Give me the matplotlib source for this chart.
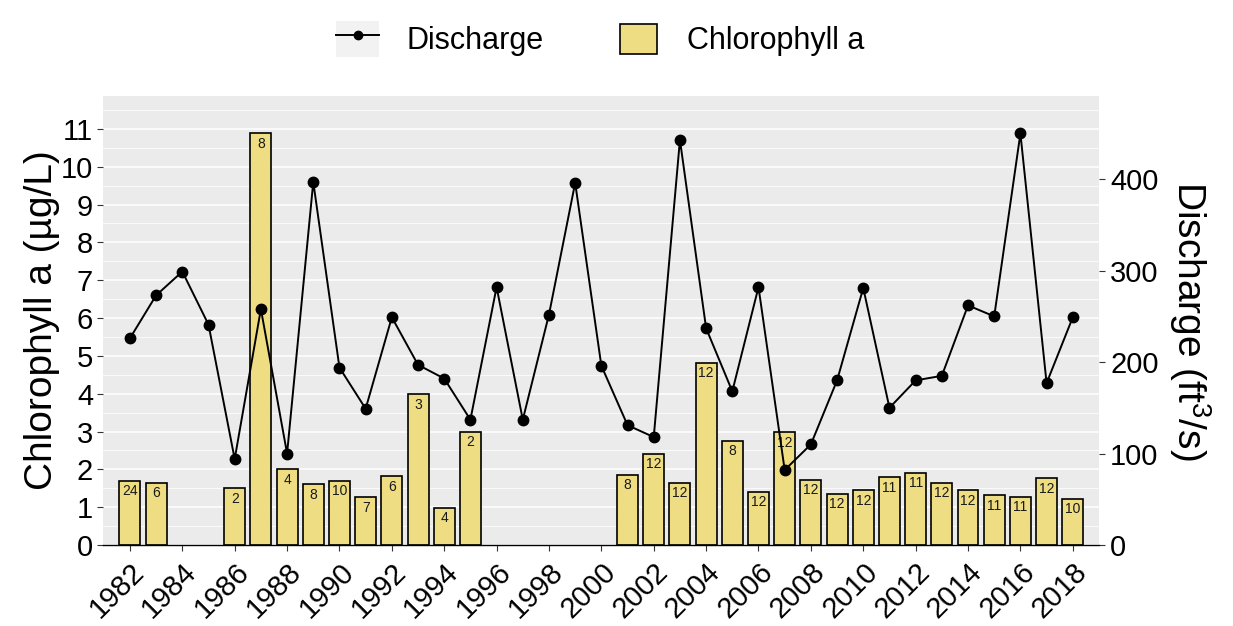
import matplotlib
matplotlib.use('Agg')
import matplotlib.pyplot as plt
import numpy as np
from matplotlib.lines import Line2D
from matplotlib.patches import Patch, Rectangle
from matplotlib.legend_handler import HandlerLine2D, HandlerPatch

plt.rcParams['font.family'] = ['Liberation Sans', 'DejaVu Sans']
plt.rcParams['mathtext.default'] = 'regular'

# Discharge, one value per year
years = list(range(1982, 2019))
discharge = [226, 273, 299, 241, 94, 258, 100, 397, 194, 149, 249, 197, 182, 137,
             282, 137, 252, 396, 196, 131, 118, 443, 237, 168, 282, 82,
             110, 180, 281, 150, 180, 185, 262, 250, 450, 177, 249]

# Chlorophyll a means and sample counts (years with data only)
chl_years = [1982, 1983, 1986, 1987, 1988, 1989, 1990, 1991, 1992, 1993, 1994, 1995,
             2001, 2002, 2003, 2004, 2005, 2006, 2007, 2008, 2009, 2010, 2011, 2012,
             2013, 2014, 2015, 2016, 2017, 2018]
chl = [1.70, 1.65, 1.50, 10.88, 2.00, 1.60, 1.70, 1.26, 1.82, 3.99, 0.99, 3.00,
       1.85, 2.41, 1.65, 4.82, 2.75, 1.41, 2.98, 1.72, 1.35, 1.45, 1.79, 1.91,
       1.65, 1.45, 1.32, 1.28, 1.77, 1.22]
counts = [24, 6, 2, 8, 4, 8, 10, 7, 6, 3, 4, 2,
          8, 12, 12, 12, 8, 12, 12, 12, 12, 12, 11, 11,
          12, 12, 11, 11, 12, 10]

year_ticks = list(range(1982, 2019, 2))

bar_color = '#EEDD82'
panel_bg = '#EBEBEB'

# secondary axis scale: peak discharge lines up with peak chlorophyll
scale = max(discharge) / max(chl)
ymax = 11.87

fig = plt.figure(figsize=(12.33, 6.26), dpi=100)
ax = fig.add_axes([0.0835, 0.1294, 0.8078, 0.7172])
ax.set_facecolor(panel_bg)

ax.bar(chl_years, chl, width=0.8, color=bar_color, edgecolor='black', linewidth=1.2, zorder=2)
for yr, v, n in zip(chl_years, chl, counts):
    ax.annotate(str(n), (yr, v), xytext=(0, -2.5), textcoords='offset points',
                ha='center', va='top', fontsize=10, color='#1a1a1a', zorder=3)

ax.set_xlim(1980.97, 2019.0)
ax.set_ylim(0, ymax)
ax.set_yticks(range(0, 12))
ax.set_yticks(np.arange(0.5, 12, 1), minor=True)
ax.set_xticks(year_ticks)
ax.set_xticklabels([str(y) for y in year_ticks], rotation=45, ha='right', va='top',
                   rotation_mode='anchor')
ax.grid(axis='y', which='major', color='white', linewidth=1.1)
ax.grid(axis='y', which='minor', color='white', linewidth=0.55)
ax.set_axisbelow(True)
ax.tick_params(axis='both', which='major', labelsize=21, length=4, width=0.8,
               color='#333333', pad=3)
ax.tick_params(axis='y', which='minor', length=0)
ax.tick_params(axis='x', pad=5)
for s in ['left', 'right', 'top']:
    ax.spines[s].set_visible(False)
ax.spines['bottom'].set_color('black')
ax.spines['bottom'].set_linewidth(1.0)
ax.set_ylabel('Chlorophyll a (µg/L)', fontsize=28, labelpad=1)

ax2 = ax.twinx()
ax2.plot(years, discharge, color='black', linewidth=1.4, marker='o', markersize=7.5,
         zorder=4)
ax2.set_ylim(0, ymax * scale)
ax2.set_yticks([0, 100, 200, 300, 400])
ax2.tick_params(axis='y', labelsize=21, length=4, width=0.8, color='#333333', pad=4)
for s in ['left', 'right', 'top', 'bottom']:
    ax2.spines[s].set_visible(False)
ax2.set_ylabel('Discharge (ft$^3$/s)', fontsize=28, rotation=270, va='bottom', labelpad=6)


class LineKey(HandlerLine2D):
    def create_artists(self, legend, orig_handle, xdescent, ydescent, width, height,
                       fontsize, trans):
        bg = Rectangle((-xdescent, -ydescent), width, height, facecolor='#F2F2F2',
                       edgecolor='none', transform=trans)
        arts = super().create_artists(legend, orig_handle, xdescent, ydescent, width,
                                      height, fontsize, trans)
        return [bg] + list(arts)


def square_key(legend, orig_handle, xdescent, ydescent, width, height, fontsize):
    return Rectangle((-xdescent + 2, -ydescent + 2), width - 4, height - 4)


line_handle = Line2D([], [], color='black', linewidth=1.4, marker='o', markersize=6)
bar_handle = Patch(facecolor=bar_color, edgecolor='black', linewidth=1.2)
fig.legend([line_handle, bar_handle], ['Discharge', 'Chlorophyll a'],
           loc='upper center', bbox_to_anchor=(0.487, 1.0), ncol=2, frameon=False,
           fontsize=22, handlelength=1.4, handleheight=1.4, handletextpad=0.9,
           columnspacing=2.4, borderpad=0.2, numpoints=1,
           handler_map={line_handle: LineKey(numpoints=1),
                        bar_handle: HandlerPatch(patch_func=square_key)})

fig.savefig('out.png', dpi=100)
